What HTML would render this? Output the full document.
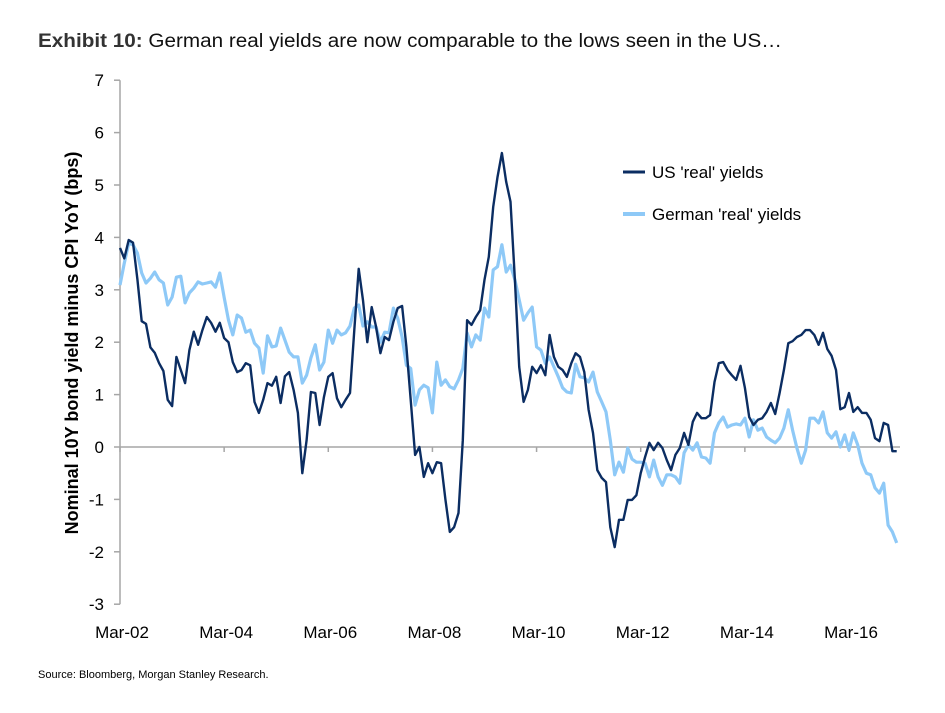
<!DOCTYPE html>
<html><head><meta charset="utf-8"><style>
body{margin:0;background:#fff;width:945px;height:708px;overflow:hidden;font-family:"Liberation Sans",Arial,sans-serif}
</style></head><body>
<svg width="945" height="708" viewBox="0 0 945 708">
<text x="38" y="47" font-size="19" fill="#111" textLength="744" lengthAdjust="spacingAndGlyphs"><tspan font-weight="bold" fill="#333">Exhibit 10:</tspan>  German real yields are now comparable to the lows seen in the US…</text>
<g id="axes"></g>
<g id="series"></g>
<g>
<line x1="623" y1="172" x2="645" y2="172" stroke="#0b2d62" stroke-width="3"/>
<text x="652" y="178" font-size="17" fill="#000">US 'real' yields</text>
<line x1="623" y1="214" x2="645" y2="214" stroke="#8ec9f7" stroke-width="4"/>
<text x="652" y="220" font-size="17" fill="#000">German 'real' yields</text>
</g>
<text transform="translate(78,343) rotate(-90)" text-anchor="middle" font-size="18" font-weight="bold" fill="#000">Nominal 10Y bond yield minus CPI YoY (bps)</text>
<text x="38" y="678" font-size="11" fill="#000">Source: Bloomberg, Morgan Stanley Research.</text>
</svg>
<script>
const yTicks=[7,6,5,4,3,2,1,0,-1,-2,-3];
const xLabels=["Mar-02","Mar-04","Mar-06","Mar-08","Mar-10","Mar-12","Mar-14","Mar-16"];
const xLabelMonths=[0,24,48,72,96,120,144,168];
const usYields=[3.8,3.6,3.95,3.9,3.2,2.4,2.35,1.9,1.8,1.6,1.45,0.9,0.78,1.72,1.47,1.22,1.85,2.2,1.95,2.23,2.48,2.37,2.2,2.37,2.08,2.0,1.62,1.43,1.47,1.6,1.56,0.86,0.65,0.9,1.22,1.17,1.34,0.84,1.35,1.43,1.09,0.65,-0.5,0.13,1.05,1.03,0.42,0.95,1.34,1.41,0.93,0.76,0.9,1.03,2.23,3.4,2.8,2.0,2.67,2.3,
1.79,2.1,2.04,2.39,2.65,2.69,1.91,0.9,-0.15,0,-0.57,-0.31,-0.5,-0.29,-0.31,-1.0,-1.62,-1.53,-1.26,0.13,2.42,2.33,2.48,2.61,3.19,3.63,4.58,5.15,5.61,5.06,4.68,3.19,1.53,0.86,1.09,1.53,1.41,1.56,1.37,2.14,1.72,1.53,1.47,1.34,1.6,1.79,1.72,1.43,0.71,0.27,-0.44,-0.59,-0.67,-1.53,-1.91,-1.39,-1.39,-1.01,-1.01,-0.92,-0.5,
-0.19,0.08,-0.06,0.08,-0.02,-0.25,-0.44,-0.15,-0.02,0.27,0.04,0.48,0.65,0.55,0.55,0.61,1.24,1.6,1.62,1.47,1.37,1.28,1.55,1.13,0.57,0.42,0.52,0.55,0.67,0.84,0.63,1.03,1.47,1.98,2.02,2.1,2.14,2.23,2.23,2.14,1.95,2.18,1.87,1.74,1.47,0.72,0.76,1.03,0.67,0.76,0.65,0.65,0.52,0.17,0.11,0.46,0.42,-0.08,-0.08];
const germanYields=[3.09,3.51,3.89,3.86,3.7,3.32,3.13,3.22,3.34,3.19,3.13,2.71,2.86,3.24,3.26,2.75,2.94,3.03,3.15,3.11,3.13,3.15,3.05,3.32,2.86,2.42,2.14,2.52,2.46,2.19,2.23,1.98,1.89,1.41,2.12,1.91,1.93,2.27,2.04,1.81,1.72,1.72,1.22,1.37,1.7,1.95,1.47,1.62,2.23,1.98,2.23,2.14,2.18,2.31,2.65,2.71,2.31,2.39,2.29,2.29,
2.0,2.19,2.18,2.65,2.46,2.1,1.56,1.5,0.8,1.09,1.18,1.13,0.65,1.62,1.18,1.28,1.15,1.11,1.28,1.5,2.18,1.91,2.14,2.04,2.65,2.48,3.38,3.44,3.86,3.34,3.47,3.19,2.81,2.42,2.56,2.67,1.91,1.85,1.6,1.72,1.53,1.34,1.13,1.05,1.03,1.58,1.34,1.32,1.24,1.43,1.05,0.86,0.67,0.13,-0.53,-0.29,-0.48,-0.02,-0.23,-0.29,-0.29,
-0.31,-0.57,-0.25,-0.57,-0.73,-0.53,-0.53,-0.57,-0.69,-0.11,0.04,-0.06,0.08,-0.19,-0.21,-0.31,0.27,0.46,0.57,0.38,0.42,0.44,0.42,0.55,0.19,0.52,0.32,0.36,0.19,0.13,0.08,0.17,0.36,0.71,0.32,-0.02,-0.31,-0.06,0.55,0.55,0.46,0.67,0.27,0.17,0.29,0,0.23,-0.06,0.27,0.04,-0.31,-0.5,-0.53,-0.78,-0.88,-0.69,-1.49,-1.62,-1.83];

const NS="http://www.w3.org/2000/svg";
const X0=120, MONTH=(849-120)/168;
const Y0=447, UNIT=(604-80)/10;
function xs(m){return X0+m*MONTH;}
function ys(v){return Y0-v*UNIT;}
function mk(tag,attrs,parent){const e=document.createElementNS(NS,tag);for(const k in attrs)e.setAttribute(k,attrs[k]);parent.appendChild(e);return e;}

const axes=document.getElementById('axes');
const yl=mk('line',{x1:X0,y1:ys(7),x2:X0,y2:ys(-3),stroke:'#a6a6a6','stroke-width':1.5},axes);


yTicks.forEach(t=>{
  const tk=mk('line',{x1:X0-6,y1:ys(t),x2:X0,y2:ys(t),stroke:'#a6a6a6','stroke-width':1.5},axes);
  
  
  const lb=mk('text',{x:X0-16,y:ys(t)+6,'text-anchor':'end','font-size':17,fill:'#000'},axes);
  lb.textContent=t;
  
  
});
const xl=mk('line',{x1:X0,y1:ys(0),x2:900,y2:ys(0),stroke:'#a6a6a6','stroke-width':1.5},axes);


xLabels.forEach((l,i)=>{
  const x=xs(xLabelMonths[i]);
  const tk=mk('line',{x1:x,y1:ys(0),x2:x,y2:ys(0)+5,stroke:'#a6a6a6','stroke-width':1.5},axes);
  
  
  const lb=mk('text',{x:x+2,y:638,'text-anchor':'middle','font-size':17,fill:'#000'},axes);
  lb.textContent=l;
  
  
});
const ser=document.getElementById('series');
function path(vals){return vals.map((v,i)=>(i?'L':'M')+xs(i).toFixed(1)+','+ys(v).toFixed(1)).join('');}
const g=mk('path',{d:path(germanYields),fill:'none',stroke:'#8ec9f7','stroke-width':3.2,'stroke-linejoin':'round'},ser);


const u=mk('path',{d:path(usYields),fill:'none',stroke:'#0b2d62','stroke-width':2.4,'stroke-linejoin':'round'},ser);


</script>
</body></html>
